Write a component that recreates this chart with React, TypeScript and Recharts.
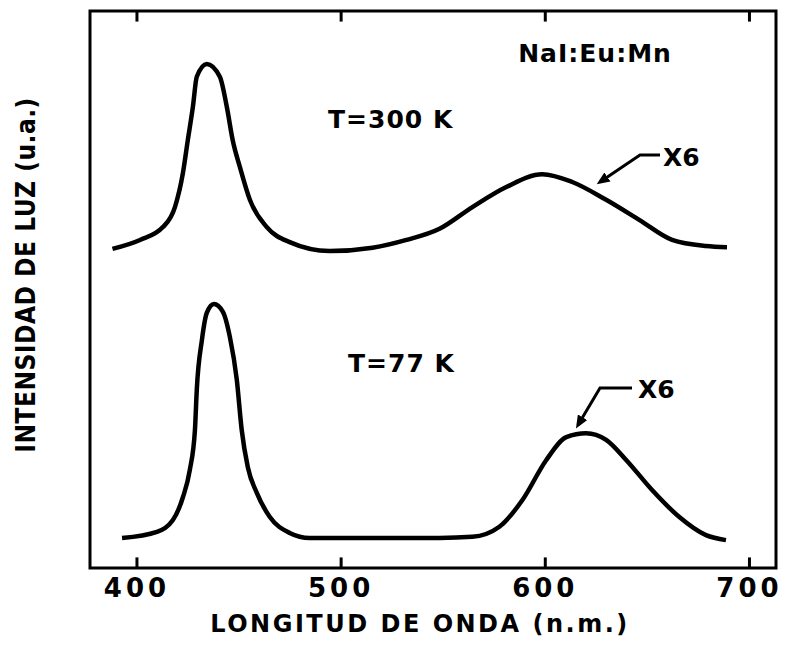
import React from 'react';
import { LineChart, Line, XAxis, YAxis, ReferenceLine, ReferenceArea } from 'recharts';

// wavelength (nm) and intensity (a.u., 0-100)
const lambda300 = [388, 401.5, 412.7, 418.6, 422.5, 424.9, 427.4, 429.3, 434.2, 440.6, 444, 446.9, 450.4, 455.3, 463.6, 474.8, 494.4, 515.4, 532, 548.2, 564.3, 580.9, 598.5, 613.2, 629.8, 646, 662.1, 678.7, 689];
const int300 = [57.3, 58.9, 61.2, 64.8, 70.9, 76.8, 82.8, 88.2, 90.5, 88.2, 82.8, 76.8, 72, 66.1, 61.2, 58.5, 56.9, 57.5, 58.9, 60.9, 64.8, 68.4, 70.7, 69.3, 66.1, 62.5, 58.9, 57.8, 57.6];

const lambda77 = [392.7, 409.8, 417.6, 422.5, 425.9, 428.4, 429.3, 431.8, 434.2, 437.7, 442.1, 445.5, 448.9, 451.3, 454.3, 458.7, 465, 474.8, 484.6, 548.2, 564.3, 577.5, 588.8, 600.5, 610.3, 620, 629.8, 639.6, 652.3, 665.5, 678.7, 688.5];
const int77 = [5.4, 6.5, 8.6, 12.7, 17.6, 24.8, 32, 40.9, 45.8, 47.4, 46, 41.5, 33.8, 24.8, 18.1, 13.5, 9.2, 6.3, 5.4, 5.4, 5.6, 7.4, 12.2, 19.4, 23.5, 24.2, 23, 19.4, 14, 9.2, 5.9, 5];

const xTicks = [400, 500, 600, 700];
const xDomain = [377, 713];
const yDomain = [0, 100];

const data300 = lambda300.map((x, i) => ({ x, y: int300[i] }));
const data77 = lambda77.map((x, i) => ({ x, y: int77[i] }));

const labelFont = "'DejaVu Sans', sans-serif";

const TickLabel = (props: any) => {
  const { x, y, payload } = props;
  return (
    <text x={x} y={y} dy="0.71em" textAnchor="middle" fontFamily={labelFont} fontWeight="bold" fontSize={26} letterSpacing={4} fill="#000">
      {payload.value}
    </text>
  );
};

export default function App() {
  return (
    <div style={{ position: 'absolute', left: 0, top: 0, width: 791, height: 649, background: '#fff' }}>
      <LineChart width={791} height={649} margin={{ top: 11, right: 15, bottom: 0, left: 90 }}>
        <XAxis dataKey="x" type="number" domain={xDomain} ticks={xTicks} allowDataOverflow
          axisLine={false} tickLine={false} tickMargin={5} height={81} tick={<TickLabel />} />
        <YAxis type="number" domain={yDomain} hide />
        <ReferenceArea x1={xDomain[0]} x2={xDomain[1]} y1={yDomain[0]} y2={yDomain[1]} fill="none" stroke="#000" strokeWidth={3} />
        {xTicks.map(t => (
          <ReferenceLine key={'b' + t} segment={[{ x: t, y: 0 }, { x: t, y: 1.9 }]} stroke="#000" strokeWidth={3} />
        ))}
        {xTicks.map(t => (
          <ReferenceLine key={'t' + t} segment={[{ x: t, y: 100 }, { x: t, y: 98.1 }]} stroke="#000" strokeWidth={3} />
        ))}
        <Line data={data300} dataKey="y" type="monotone" stroke="#000" strokeWidth={4.5} dot={false} isAnimationActive={false} />
        <Line data={data77} dataKey="y" type="monotone" stroke="#000" strokeWidth={4.5} dot={false} isAnimationActive={false} />
      </LineChart>
      <svg width={791} height={649} style={{ position: 'absolute', left: 0, top: 0, pointerEvents: 'none' }}>
        <defs>
          <marker id="ah" markerWidth="13" markerHeight="11" refX="9" refY="5.5" orient="auto" markerUnits="userSpaceOnUse">
            <path d="M0,0 L13,5.5 L0,11 Z" fill="#000" />
          </marker>
        </defs>
        <g fontFamily={labelFont} fontWeight="bold" fill="#000">
          <text x={595} y={62} fontSize={25} textAnchor="middle" letterSpacing={1}>NaI:Eu:Mn</text>
          <text x={328} y={128} fontSize={25} letterSpacing={1}>T=300 K</text>
          <text x={348} y={372} fontSize={25} letterSpacing={1}>T=77 K</text>
          <text x={663} y={166} fontSize={25}>X6</text>
          <text x={638} y={398} fontSize={25}>X6</text>
          <text x={420} y={632} fontSize={24} textAnchor="middle" letterSpacing={2.5}>LONGITUD DE ONDA  (n.m.)</text>
        </g>
        <text transform="translate(35,275) rotate(-90)" textAnchor="middle" fontFamily="'Liberation Sans Narrow', 'DejaVu Sans Condensed', sans-serif"
          fontWeight="bold" fontSize={26} letterSpacing={0.5} fill="#000">INTENSIDAD DE LUZ  (u.a.)</text>
        <polyline points="660,155 640,155 600,182" fill="none" stroke="#000" strokeWidth={3} markerEnd="url(#ah)" />
        <polyline points="632,388 600,388 578,425" fill="none" stroke="#000" strokeWidth={3} markerEnd="url(#ah)" />
      </svg>
    </div>
  );
}
